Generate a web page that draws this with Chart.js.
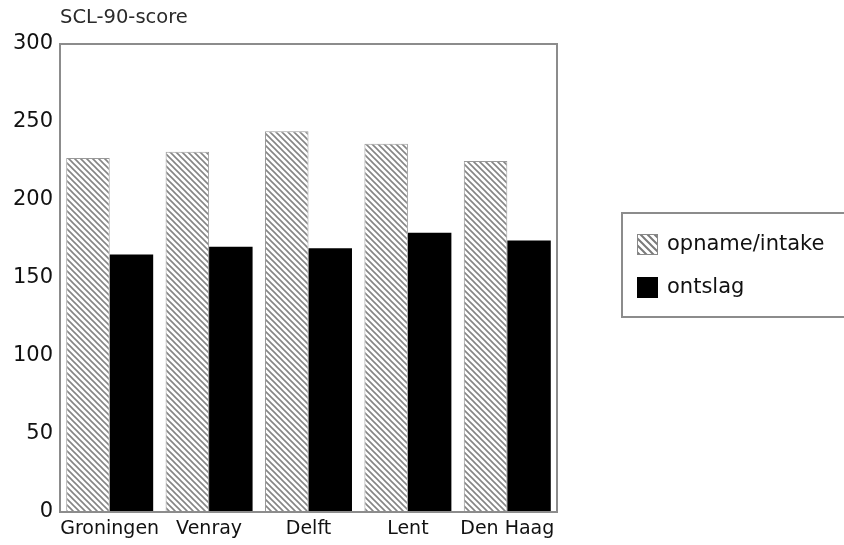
<!DOCTYPE html>
<html>
<head>
<meta charset="utf-8">
<script src="https://cdn.jsdelivr.net/npm/chart.js@4/dist/chart.umd.min.js"></script>
<style>
html,body{margin:0;padding:0;background:#fff;}
#wrap{width:844px;height:545px;position:relative;}
</style>
</head>
<body>
<div id="wrap"><canvas id="c" width="844" height="545"></canvas></div>
<script>
const categories = ['Groningen', 'Venray', 'Delft', 'Lent', 'Den Haag'];
const seriesNames = ['opname/intake', 'ontslag'];
const intakeValues = [227, 231, 244, 236, 225];
const ontslagValues = [165, 170, 169, 179, 174];
const yTicks = [0, 50, 100, 150, 200, 250, 300];
const yAxisTitle = 'SCL-90-score';

function makeHatch(s, lw, col) {
  const c = document.createElement('canvas');
  c.width = s; c.height = s;
  const g = c.getContext('2d');
  g.fillStyle = '#ffffff';
  g.fillRect(0, 0, s, s);
  g.strokeStyle = col;
  g.lineWidth = lw;
  g.beginPath();
  g.moveTo(-1, -1); g.lineTo(s + 1, s + 1);
  g.moveTo(-1, s - 1); g.lineTo(1, s + 1);
  g.moveTo(s - 1, -1); g.lineTo(s + 1, 1);
  g.stroke();
  return document.getElementById('c').getContext('2d').createPattern(c, 'repeat');
}
const hatch = makeHatch(6, 1.6, '#858585');
const legendHatch = makeHatch(7, 2, '#7a7a7a');
const FONT = '"DejaVu Sans", Verdana, sans-serif';
const TXT = '#111111';

const framePlugin = {
  id: 'frame',
  afterDraw(chart) {
    const ctx = chart.ctx;
    const a = chart.chartArea;
    ctx.save();
    ctx.strokeStyle = '#8c8c8c';
    ctx.lineWidth = 2;
    ctx.strokeRect(a.left, a.top, a.right - a.left, a.bottom - a.top);
    // title
    ctx.fillStyle = '#2a2a2a';
    ctx.font = '19.5px ' + FONT;
    ctx.textBaseline = 'middle';
    ctx.textAlign = 'left';
    ctx.fillText(yAxisTitle, a.left, 18);
    // legend
    const lx = 622, ly = 213, lw = 240, lh = 104;
    ctx.strokeStyle = '#8c8c8c';
    ctx.lineWidth = 2;
    ctx.strokeRect(lx, ly, lw, lh);
    const ds = chart.data.datasets;
    const rows = [244, 287];
    ctx.font = '21px ' + FONT;
    ds.forEach((d, i) => {
      const y = rows[i];
      ctx.fillStyle = i === 0 ? legendHatch : d.backgroundColor;
      ctx.fillRect(637, y - 10, 21, 21);
      if (i === 0) {
        ctx.strokeStyle = '#888';
        ctx.lineWidth = 1;
        ctx.strokeRect(637.5, y - 9.5, 20, 20);
      }
      ctx.fillStyle = TXT;
      ctx.fillText(d.label, 667, y + 1);
    });
    ctx.restore();
  }
};

new Chart(document.getElementById('c'), {
  type: 'bar',
  data: {
    labels: categories,
    datasets: [
      { label: seriesNames[0], data: intakeValues, backgroundColor: hatch, borderColor: '#999999', borderWidth: 1 },
      { label: seriesNames[1], data: ontslagValues, backgroundColor: '#000000', borderWidth: 0 }
    ]
  },
  options: {
    responsive: false,
    animation: false,
    devicePixelRatio: 1,
    layout: { padding: { left: 0, right: 287, top: 44, bottom: 0 } },
    plugins: { legend: { display: false }, title: { display: false }, tooltip: { enabled: false } },
    datasets: { bar: { categoryPercentage: 0.875, barPercentage: 1.0 } },
    scales: {
      x: {
        grid: { display: false, drawTicks: false },
        border: { display: false },
        ticks: { color: TXT, font: { family: FONT, size: 19 }, padding: 6, maxRotation: 0, autoSkip: false },
        afterFit(s) { s.height = 33; }
      },
      y: {
        min: 0, max: 300,
        afterBuildTicks(s) { s.ticks = yTicks.map(v => ({ value: v })); },
        grid: { display: false, drawTicks: false },
        border: { display: false },
        ticks: { color: TXT, font: { family: FONT, size: 21 }, padding: 7 },
        afterFit(s) { s.width = 60; }
      }
    }
  },
  plugins: [framePlugin]
});
</script>
</body>
</html>
